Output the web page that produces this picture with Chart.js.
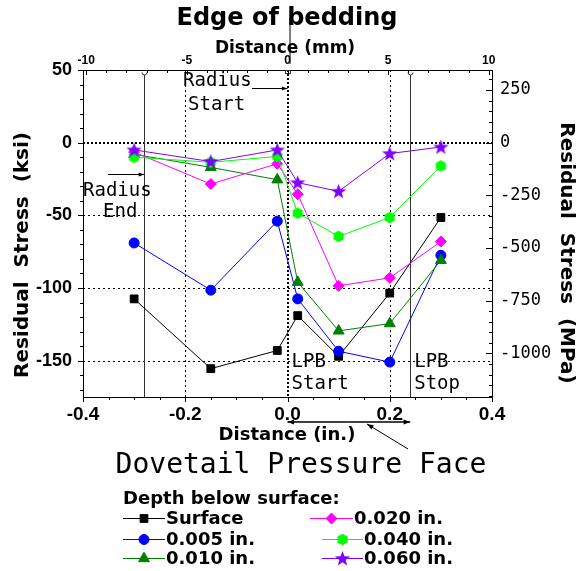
<!DOCTYPE html>
<html>
<head>
<meta charset="utf-8">
<script src="https://cdn.jsdelivr.net/npm/chart.js@4/dist/chart.umd.min.js"></script>
<style>
  html, body { margin: 0; padding: 0; background: #fff; }
</style>
</head>
<body>
<canvas id="chart" width="577" height="571"></canvas>
<script>
// distance from edge of bedding, inches
const distIn = [-0.3, -0.15, -0.02, 0.02, 0.1, 0.2, 0.3];

// residual stress, ksi
const surface = [-107.5, -155.5, -143, -119, -147, -103.5, -51.5];
const depth005 = [-69, -101.5, -54, -107.5, -143.5, -151, -77.5];
const depth010 = [-8, -17, -25.5, -96, -129.5, -124.5, -81];
const depth020 = [-6.5, -28.5, -14.5, -35.5, -98.5, -93, -68];
const depth040 = [-10, -13.5, -9.5, -48.5, -64.5, -51.5, -16];
const depth060 = [-5, -13, -5, -27.5, -33.5, -7.5, -3];

const seriesNames = ["Surface", "0.005 in.", "0.010 in.", "0.020 in.", "0.040 in.", "0.060 in."];

const inTicks = [-0.4, -0.2, 0, 0.2, 0.4];
const mmTicks = [-10, -5, 0, 5, 10];
const ksiTicks = [50, 0, -50, -100, -150];
const mpaTicks = [250, 0, -250, -500, -750, -1000];

const radiusEnd = -0.28;   // in.
const lpbStop = 0.24;      // in.

const KSI_TO_MPA = 6.895;
const MM_PER_IN = 25.4;

const BOLD = "'Liberation Sans', Arial, sans-serif";
const DJ = "'DejaVu Sans', sans-serif";
const MONO = "'DejaVu Sans Mono', monospace";

function makeShape(size, draw) {
  const c = document.createElement("canvas");
  c.width = size; c.height = size;
  draw(c.getContext("2d"), size / 2);
  return c;
}

const hexagon = makeShape(13, (g, m) => {
  g.beginPath();
  for (let i = 0; i < 6; i++) {
    const a = Math.PI / 6 + i * Math.PI / 3;
    g.lineTo(m + 5.8 * Math.cos(a), m + 5.8 * Math.sin(a));
  }
  g.closePath();
  g.fillStyle = "#00ff00";
  g.fill();
});

const star = makeShape(17, (g, m) => {
  g.beginPath();
  for (let i = 0; i < 10; i++) {
    const r = i % 2 ? 3.3 : 8;
    const a = -Math.PI / 2 + i * Math.PI / 5;
    g.lineTo(m + r * Math.cos(a), m + 0.5 + r * Math.sin(a));
  }
  g.closePath();
  g.fillStyle = "#7f00ff";
  g.fill();
});

function pts(vals) {
  return vals.map((v, i) => ({ x: distIn[i], y: v }));
}

function series(label, vals, color, style, radius, order) {
  return {
    label,
    data: pts(vals),
    borderColor: color,
    backgroundColor: color,
    borderWidth: 1,
    pointStyle: style,
    pointRadius: radius,
    pointHoverRadius: radius,
    pointBackgroundColor: color,
    pointBorderColor: color,
    pointBorderWidth: 1,
    tension: 0,
    order
  };
}

const datasets = [
  series(seriesNames[0], surface, "#000000", "rect", 5.5, 6),
  series(seriesNames[1], depth005, "#0000ff", "circle", 5, 5),
  series(seriesNames[2], depth010, "#008000", "triangle", 6.3, 4),
  series(seriesNames[3], depth020, "#ff00ff", "rectRot", 5.5, 3),
  series(seriesNames[4], depth040, "#00ff00", hexagon, 6, 2),
  series(seriesNames[5], depth060, "#7f00ff", star, 8, 1)
];

function fixTicks(list) {
  return s => { s.ticks = list.map(v => ({ value: v })); };
}

function arrow(ctx, x1, y1, x2, y2, head) {
  ctx.beginPath();
  ctx.moveTo(x1, y1);
  ctx.lineTo(x2, y2);
  ctx.stroke();
  const a = Math.atan2(y2 - y1, x2 - x1);
  ctx.beginPath();
  ctx.moveTo(x2, y2);
  ctx.lineTo(x2 - head * Math.cos(a - 0.35), y2 - head * Math.sin(a - 0.35));
  ctx.lineTo(x2 - head * Math.cos(a + 0.35), y2 - head * Math.sin(a + 0.35));
  ctx.closePath();
  ctx.fill();
}

const decor = {
  id: "decor",
  beforeDatasetsDraw(chart) {
    const { ctx, chartArea: a, scales } = chart;
    const x = scales.x, y = scales.y;
    ctx.save();
    ctx.strokeStyle = "#000";
    // thin dotted grid
    ctx.lineWidth = 1;
    ctx.setLineDash([2, 3]);
    [-0.2, 0.2].forEach(v => {
      const px = Math.round(x.getPixelForValue(v)) + 0.5;
      ctx.beginPath(); ctx.moveTo(px, a.top); ctx.lineTo(px, a.bottom); ctx.stroke();
    });
    [-50, -100, -150].forEach(v => {
      const py = Math.round(y.getPixelForValue(v)) + 0.5;
      ctx.beginPath(); ctx.moveTo(a.left, py); ctx.lineTo(a.right, py); ctx.stroke();
    });
    // heavy zero lines
    ctx.lineWidth = 2;
    ctx.setLineDash([2, 2]);
    const x0 = Math.round(x.getPixelForValue(0));
    ctx.beginPath(); ctx.moveTo(x0, a.top); ctx.lineTo(x0, a.bottom); ctx.stroke();
    const y0 = Math.round(y.getPixelForValue(0));
    ctx.beginPath(); ctx.moveTo(a.left, y0); ctx.lineTo(a.right, y0); ctx.stroke();
    // radius end / LPB stop lines
    ctx.setLineDash([]);
    ctx.lineWidth = 1;
    ctx.strokeStyle = "#333";
    [radiusEnd, lpbStop].forEach(v => {
      const px = Math.round(x.getPixelForValue(v)) + 0.5;
      ctx.beginPath(); ctx.moveTo(px, a.top + 5); ctx.lineTo(px, a.bottom); ctx.stroke();
      ctx.beginPath(); ctx.arc(px, a.top + 2.5, 2.5, 0, Math.PI); ctx.stroke();
    });
    ctx.strokeRect(x0 - 2.5, a.top + 0.5, 5, 3);
    ctx.restore();
  },
  afterDraw(chart) {
    const { ctx, chartArea: a, scales } = chart;
    const x = scales.x, y = scales.y, x2 = scales.x2, y2 = scales.y2;
    ctx.save();
    ctx.strokeStyle = "#000";
    ctx.fillStyle = "#000";
    ctx.lineWidth = 1;

    // tick marks
    const tick = (x1, y1, x2_, y2_) => {
      ctx.beginPath(); ctx.moveTo(x1, y1); ctx.lineTo(x2_, y2_); ctx.stroke();
    };
    for (let v = -170; v <= 50; v += 10) {
      const py = Math.round(y.getPixelForValue(v)) + 0.5;
      const len = v % 50 === 0 ? 5 : 3;
      tick(a.left - len, py, a.left, py);
    }
    for (let v = -1200; v <= 300; v += 50) {
      const py = Math.round(y2.getPixelForValue(v)) + 0.5;
      const len = v % 250 === 0 ? 6 : 3;
      tick(a.right - len, py, a.right, py);
    }
    for (let v = -10; v <= 10; v += 1) {
      const px = Math.round(x2.getPixelForValue(v)) + 0.5;
      const len = v % 5 === 0 ? 5 : 3;
      tick(px, a.top, px, a.top + len);
    }
    for (let i = -8; i <= 8; i++) {
      const px = Math.round(x.getPixelForValue(i * 0.05)) + 0.5;
      const len = i % 4 === 0 ? 5 : 3;
      tick(px, a.bottom, px, a.bottom + len);
    }

    const cx = x.getPixelForValue(0);

    // titles
    ctx.textAlign = "center";
    ctx.textBaseline = "alphabetic";
    ctx.font = "bold 24px " + DJ;
    ctx.fillText("Edge of bedding", 287, 25);
    ctx.font = "bold 17px " + DJ;
    ctx.fillText("Distance (mm)", 285, 53);
    ctx.font = "bold 18px " + DJ;
    ctx.fillText("Distance (in.)", 287, 440);
    ctx.font = "28px " + MONO;
    ctx.fillText("Dovetail Pressure Face", 301, 473);

    ctx.font = "bold 20px " + DJ;
    ctx.save();
    ctx.translate(23, 255);
    ctx.rotate(-Math.PI / 2);
    ctx.textBaseline = "middle";
    ctx.fillText("Residual  Stress  (ksi)", 0, 0);
    ctx.restore();
    ctx.save();
    ctx.translate(566, 253);
    ctx.rotate(Math.PI / 2);
    ctx.textBaseline = "middle";
    ctx.fillText("Residual  Stress  (MPa)", 0, 0);
    ctx.restore();

    // edge of bedding pointer
    ctx.beginPath();
    ctx.moveTo(cx + 2.5, 18); ctx.lineTo(cx + 2.5, 64); ctx.stroke();

    // annotations
    ctx.textAlign = "left";
    ctx.font = "19px " + MONO;
    ctx.fillText("Radius", 183, 86);
    ctx.fillText("Start", 188, 110);
    arrow(ctx, 252, 88.5, cx, 88.5, 6);

    const xr = x.getPixelForValue(radiusEnd);
    ctx.fillText("Radius", 83, 196);
    ctx.fillText("End", 103, 217);
    arrow(ctx, 108, 174.5, xr, 174.5, 6);

    const xs = x.getPixelForValue(lpbStop);
    ctx.fillText("LPB", cx + 4, 367);
    ctx.fillText("Start", cx + 4, 389);
    ctx.fillText("LPB", xs + 4, 367);
    ctx.fillText("Stop", xs + 4, 389);

    // LPB zone arrow under the axis
    ctx.lineWidth = 1.5;
    const mid = (cx + xs) / 2;
    arrow(ctx, mid, 422, cx, 422, 7);
    arrow(ctx, mid, 422, xs, 422, 7);
    ctx.lineWidth = 1;
    arrow(ctx, 408, 449, 367, 424, 7);

    // legend
    ctx.font = "bold 18px " + DJ;
    ctx.fillText("Depth below surface:", 123, 504);
    const slots = [
      [123, 165, 518], [123, 165, 539], [123, 165, 558],
      [310, 353, 518], [322, 363, 539], [322, 363, 558]
    ];
    ctx.textBaseline = "middle";
    chart.data.datasets.forEach((ds, i) => {
      const [l, r, ly] = slots[i];
      ctx.strokeStyle = ds.borderColor;
      ctx.fillStyle = ds.borderColor;
      ctx.lineWidth = 1;
      ctx.beginPath(); ctx.moveTo(l, ly + 0.5); ctx.lineTo(r, ly + 0.5); ctx.stroke();
      Chart.helpers.drawPoint(ctx, {
        pointStyle: ds.pointStyle, radius: ds.pointRadius, rotation: 0, borderWidth: 1
      }, (l + r) / 2, ly + 0.5);
      ctx.fillStyle = "#000";
      ctx.fillText(ds.label, r + 1, ly + 1);
    });
    ctx.restore();
  }
};

new Chart(document.getElementById("chart"), {
  type: "line",
  data: { datasets },
  options: {
    responsive: false,
    animation: false,
    events: [],
    layout: { padding: { top: 0, left: 0, right: 0, bottom: 144 } },
    plugins: { legend: { display: false }, tooltip: { enabled: false } },
    scales: {
      x: {
        type: "linear", position: "bottom", min: -0.4, max: 0.4,
        afterFit: s => { s.height = 30; },
        afterBuildTicks: fixTicks(inTicks),
        grid: { display: false, drawTicks: false },
        border: { display: true, color: "#000", width: 1 },
        ticks: {
          padding: 6, color: "#000", maxRotation: 0,
          font: { family: BOLD, size: 19, weight: "bold" },
          callback: v => v.toFixed(1)
        }
      },
      x2: {
        type: "linear", position: "top",
        min: -0.4 * MM_PER_IN, max: 0.4 * MM_PER_IN,
        afterFit: s => { s.height = 70; },
        afterBuildTicks: fixTicks(mmTicks),
        grid: { display: false, drawTicks: false },
        border: { display: true, color: "#000", width: 1 },
        ticks: {
          padding: 2, color: "#000", maxRotation: 0,
          font: { family: BOLD, size: 12, weight: "bold" },
          callback: v => String(v)
        }
      },
      y: {
        type: "linear", position: "left", min: -175, max: 50,
        afterFit: s => { s.width = 83; },
        afterBuildTicks: fixTicks(ksiTicks),
        grid: { display: false, drawTicks: false },
        border: { display: true, color: "#000", width: 1 },
        ticks: {
          padding: 11, color: "#000",
          font: { family: BOLD, size: 18, weight: "bold" },
          callback: v => String(v)
        }
      },
      y2: {
        type: "linear", position: "right",
        min: -175 * KSI_TO_MPA, max: 50 * KSI_TO_MPA,
        afterFit: s => { s.width = 85; },
        afterBuildTicks: fixTicks(mpaTicks),
        grid: { display: false, drawTicks: false },
        border: { display: true, color: "#000", width: 1 },
        ticks: {
          padding: 8, color: "#000",
          font: { family: MONO, size: 17 },
          callback: v => String(v)
        }
      }
    }
  },
  plugins: [decor]
});
</script>
</body>
</html>
